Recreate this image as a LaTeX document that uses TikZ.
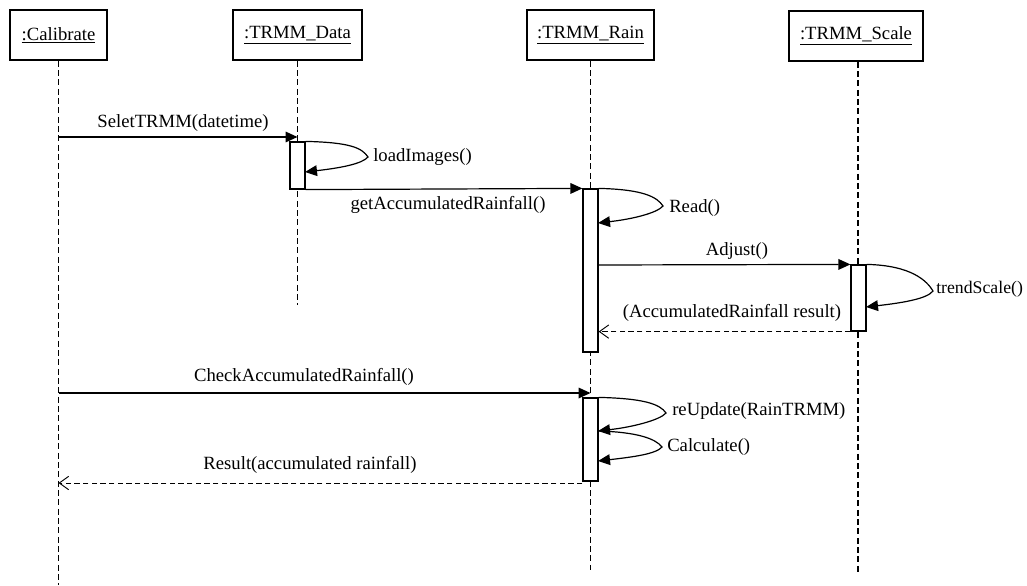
\documentclass[tikz,border=0pt]{standalone}
\usepackage{fontspec}
\setmainfont{Liberation Serif}
\usetikzlibrary{arrows.meta}
\begin{document}
\begin{tikzpicture}[x=0.75pt,y=-0.75pt,
  every node/.style={font=\fontsize{14}{16}\selectfont},
  obj/.style={draw,line width=1.2pt,minimum height=37.5pt,inner sep=0pt},
  life/.style={dash pattern=on 4.5pt off 2.5pt,line width=1.1pt},
  act/.style={draw,fill=white,line width=0.9pt,minimum width=11.25pt,inner sep=0pt},
  msg/.style={line width=0.9pt,-{Triangle[length=9pt,width=8pt]}},
  loopmsg/.style={line width=0.9pt,-{Triangle[length=9pt,width=8pt]}},
  ret/.style={line width=0.7pt,dash pattern=on 4pt off 2.5pt,-{Straight Barb[length=7pt,width=10pt]}},
  lbl/.style={inner sep=0pt},
]
\useasboundingbox (0,0) rectangle (1027,585);

% objects
\node[obj,minimum width=72.75pt] (cal) at (58.5,35) {\underline{:Calibrate}};
\node[obj,minimum width=96.75pt] (dat) at (297.5,35) {\underline{:TRMM\_Data}};
\node[obj,minimum width=95.25pt] (rain) at (590.5,35) {\underline{:TRMM\_Rain}};
\node[obj,minimum width=100.5pt] (scl) at (856,36) {\underline{:TRMM\_Scale}};

% lifeline ends
\coordinate (calE) at (58.5,585);
\coordinate (datE) at (297.5,305);
\coordinate (rainE) at (590.5,570);
\coordinate (sclE) at (858,572);

\draw[life] (cal.south) -- (calE);
\draw[life] (dat.south) -- (datE);
\draw[life] (rain.south) -- (rainE);
\draw[life] (sclE |- scl.south) -- (sclE);

% activations
\node[act,minimum height=35.25pt] (actD) at (297.5,165.5) {};
\node[act,minimum height=122.25pt] (actR1) at (590.5,270.5) {};
\node[act,minimum height=49.5pt] (actS) at (858.5,298) {};
\node[act,minimum height=62.25pt] (actR2) at (590.5,439.5) {};

% SeletTRMM
\draw[msg] (calE |- 0,137) -- (datE |- 0,137);
\node[lbl] (l1) at (183,123) {SeletTRMM(datetime)};

% loadImages loop
\coordinate (t1) at (368,157);
\draw[loopmsg] (actD.north east) .. controls +(45,1) and +(-6,-9) .. (t1)
  .. controls +(-6,7) and +(35,-4) .. (305,172);
\node[lbl,anchor=west] (l2) at (373,157) {loadImages()};

% getAccumulatedRainfall
\draw[msg] (actD.south east) -- (actR1.north west);
\node[lbl] (l3) at (448,205) {getAccumulatedRainfall()};

% Read loop
\coordinate (t2) at (663,206);
\draw[loopmsg] (actR1.north east) .. controls +(45,1) and +(-6,-9) .. (t2)
  .. controls +(-6,7) and +(35,-4) .. (598,223);
\node[lbl,anchor=west] (l4) at (669,208) {Read()};

% Adjust
\draw[msg] (actR1.east |- 0,265) -- (actS.north west);
\node[lbl] (l5) at (737,251) {Adjust()};

% trendScale loop
\coordinate (t3) at (933,291);
\draw[loopmsg] (actS.north east) .. controls +(45,1) and +(-6,-10) .. (t3)
  .. controls +(-6,8) and +(35,-4) .. (866,307);
\node[lbl,anchor=west,font=\fontsize{13.3}{16}\selectfont] (l6) at (936,289) {trendScale()};

% return
\draw[ret] (actS.south west) -- (actR1.east |- actS.south);
\node[lbl] (l7) at (732,313) {(AccumulatedRainfall result)};

% CheckAccumulatedRainfall
\draw[msg] (calE |- 0,393) -- (rainE |- 0,393);
\node[lbl] (l8) at (304,377) {CheckAccumulatedRainfall()};

% reUpdate loop
\coordinate (t4) at (666,413);
\draw[loopmsg] (actR2.north east) .. controls +(45,1) and +(-6,-9) .. (t4)
  .. controls +(-6,7) and +(35,-4) .. (598,431);
\node[lbl,anchor=west] (l9) at (672,411) {reUpdate(RainTRMM)};

% Calculate loop
\coordinate (t5) at (662,447);
\draw[loopmsg] (598,431) .. controls +(40,1) and +(-6,-8) .. (t5)
  .. controls +(-6,7) and +(35,-4) .. (598,461);
\node[lbl,anchor=west] (l10) at (667,447) {Calculate()};

% Result
\draw[ret] (actR2.south west |- 0,483) -- (calE |- 0,483);
\node[lbl] (l11) at (310,465) {Result(accumulated rainfall)};
\end{tikzpicture}
\end{document}
